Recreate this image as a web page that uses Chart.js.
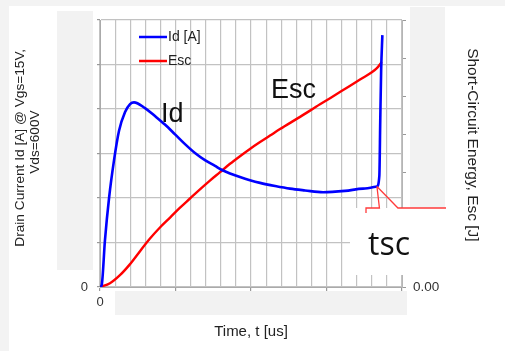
<!DOCTYPE html>
<html>
<head>
<meta charset="utf-8">
<script src="https://cdn.jsdelivr.net/npm/chart.js@4.4.1/dist/chart.umd.min.js"></script>
<style>
  html, body { margin: 0; padding: 0; background: #fff; }
  #wrap { width: 505px; height: 351px; position: relative; }
</style>
</head>
<body>
<div id="wrap"><canvas id="sc-chart"></canvas></div>
<script>
'use strict';

/* =============================================
   DATA
   ============================================= */
const timeId = [0, 0.11, 0.33, 0.60, 0.93, 1.26, 1.66, 1.99, 2.25, 2.98, 3.64, 4.30, 4.97, 5.63, 6.29, 6.95, 7.62, 8.01, 8.61, 9.27, 9.93, 10.60, 11.59, 12.58, 13.58, 14.77, 16.23, 17.42, 18.34, 18.50, 18.56, 18.62, 18.70];
const idValues = [0, 0.04, 1.06, 2.00, 2.85, 3.51, 3.93, 4.11, 4.15, 4.02, 3.84, 3.65, 3.43, 3.21, 3.01, 2.85, 2.72, 2.64, 2.55, 2.47, 2.40, 2.34, 2.27, 2.21, 2.17, 2.13, 2.16, 2.21, 2.26, 2.50, 3.75, 4.88, 5.66];

const timeEsc = [0, 0.66, 1.32, 1.99, 2.65, 3.31, 3.97, 4.64, 5.30, 5.96, 6.62, 7.28, 7.95, 8.61, 9.27, 9.93, 10.60, 11.26, 11.92, 13.25, 14.57, 15.89, 17.22, 18.32, 18.66];
const escValues = [0, 0.10, 0.31, 0.60, 0.94, 1.27, 1.56, 1.82, 2.08, 2.32, 2.56, 2.79, 3.01, 3.23, 3.43, 3.62, 3.80, 3.97, 4.14, 4.46, 4.79, 5.11, 5.44, 5.73, 5.90];

const seriesLabels = ['Id [A]', 'Esc'];
const seriesColors = ['#0000ff', '#ff0000'];
const curveNames = ['Id', 'Esc'];
const tscLabel = 'tsc';
const kinkIndex = 28; // where Id turns up (tsc)

const xTitle = 'Time, t [us]';
const yTitle = ['   Drain Current Id [A] @ Vgs=15V,', '      Vds=600V'];
const y1Title = 'Short-Circuit Energy, Esc [J]    ';

const toPoints = (xs, ys) => xs.map((x, i) => ({ x, y: ys[i] }));

/* =============================================
   DECORATION: masks, callout, labels, legend
   ============================================= */
const decor = {
  id: 'decor',
  beforeDraw(chart) {
    const c = chart.ctx;
    c.save();
    c.fillStyle = '#fff';
    c.fillRect(0, 0, chart.width, chart.height);
    c.fillStyle = '#f3f3f3';
    c.fillRect(0, 0, chart.width, 6);
    c.fillRect(0, 0, 9, chart.height);
    // grey boxes over the tick labels
    c.fillStyle = '#f2f2f2';
    c.fillRect(57, 11, 36, 259);
    c.fillRect(410, 7, 35, 201);
    c.fillRect(115, 291, 292, 24);
    c.restore();
  },
  afterDraw(chart) {
    const c = chart.ctx;
    const xs = chart.scales.x, ys = chart.scales.y;
    c.save();

    // white callout box
    c.fillStyle = '#fff';
    c.fillRect(350, 208, 98, 67);

    // callout lines from the kink
    const kx = xs.getPixelForValue(timeId[kinkIndex]);
    const ky = ys.getPixelForValue(idValues[kinkIndex]);
    c.strokeStyle = '#ff3b3b';
    c.lineWidth = 1.3;
    c.beginPath();
    c.moveTo(kx, ky);
    c.lineTo(kx + 2.5, 208);
    c.lineTo(366, 208);
    c.lineTo(366, 213);
    c.moveTo(kx, ky);
    c.lineTo(kx + 21, 208);
    c.lineTo(446, 208);
    c.stroke();

    // curve names
    c.fillStyle = '#111';
    c.textBaseline = 'alphabetic';
    c.textAlign = 'left';
    c.font = '27px "Liberation Sans", Arial, sans-serif';
    c.fillText(curveNames[0], 161, 122);
    c.fillText(curveNames[1], 271, 98);
    c.font = '32px "Open Sans", sans-serif';
    c.fillText(tscLabel, 368, 255);

    // legend, top left of the plot
    c.font = '14px "Liberation Sans", Arial, sans-serif';
    c.textBaseline = 'middle';
    chart.data.datasets.forEach((ds, i) => {
      const yy = 37 + i * 24;
      c.strokeStyle = ds.borderColor;
      c.lineWidth = 2.5;
      c.beginPath();
      c.moveTo(139, yy);
      c.lineTo(167, yy);
      c.stroke();
      c.fillStyle = '#222';
      c.fillText(ds.label, 168, yy + 0.5);
    });
    c.restore();
  }
};

/* =============================================
   CHART
   ============================================= */
const FONT = "'Liberation Sans', Arial, sans-serif";
const GRID = '#c2c2c2';

new Chart(document.getElementById('sc-chart'), {
  type: 'line',
  data: {
    datasets: [
      {
        label: seriesLabels[0],
        data: toPoints(timeId, idValues),
        borderColor: seriesColors[0],
        borderWidth: 2.6,
        pointRadius: 0,
        cubicInterpolationMode: 'monotone',
        yAxisID: 'y'
      },
      {
        label: seriesLabels[1],
        data: toPoints(timeEsc, escValues),
        borderColor: seriesColors[1],
        borderWidth: 2.4,
        pointRadius: 0,
        cubicInterpolationMode: 'monotone',
        yAxisID: 'y1'
      }
    ]
  },
  options: {
    responsive: true,
    maintainAspectRatio: false,
    animation: false,
    layout: { padding: { top: 20, left: 0, right: 0, bottom: 0 } },
    plugins: { legend: { display: false }, tooltip: { enabled: false } },
    scales: {
      x: {
        type: 'linear',
        min: 0, max: 20,
        ticks: {
          stepSize: 1, autoSkip: false, maxRotation: 0, padding: 4,
          color: '#333', font: { family: FONT, size: 13 },
          callback: v => v === 0 ? '0' : ''
        },
        grid: {
          color: GRID,
          lineWidth: 1.2,
          tickLength: 4,
          tickColor: ctx => ctx.tick && ctx.tick.value % 5 === 0 ? '#999' : 'rgba(0,0,0,0)'
        },
        border: { color: '#aaa' },
        title: { display: true, text: xTitle, color: '#222', font: { family: FONT, size: 15, lineHeight: 1.2 }, padding: { top: 0, bottom: 10 } },
        afterFit: s => { s.height = 64; }
      },
      y: {
        position: 'left',
        min: 0, max: 6,
        ticks: {
          stepSize: 1, padding: 9, color: '#333', font: { family: FONT, size: 13 },
          callback: v => v === 0 ? '0' : ''
        },
        grid: { color: GRID, lineWidth: 1.2, tickLength: 3, tickColor: '#999' },
        border: { color: '#aaa' },
        title: { display: true, text: yTitle, color: '#222', font: { family: FONT, size: 13.7, lineHeight: 1.1 }, padding: { top: 12.5, bottom: 0 } },
        afterFit: s => { s.width = 100; }
      },
      y1: {
        position: 'right',
        min: 0, max: 7,
        ticks: {
          stepSize: 1, padding: 7, color: '#333', font: { family: FONT, size: 13.5 },
          callback: v => v === 0 ? '0.00' : ''
        },
        grid: { drawOnChartArea: false, tickLength: 4, tickColor: '#999' },
        border: { color: '#b5b5b5' },
        title: { display: true, text: y1Title, color: '#222', font: { family: FONT, size: 15.5, lineHeight: 1.2 }, padding: { top: 23.7, bottom: 0 } },
        afterFit: s => { s.width = 103; }
      }
    }
  },
  plugins: [decor]
});
</script>
</body>
</html>
